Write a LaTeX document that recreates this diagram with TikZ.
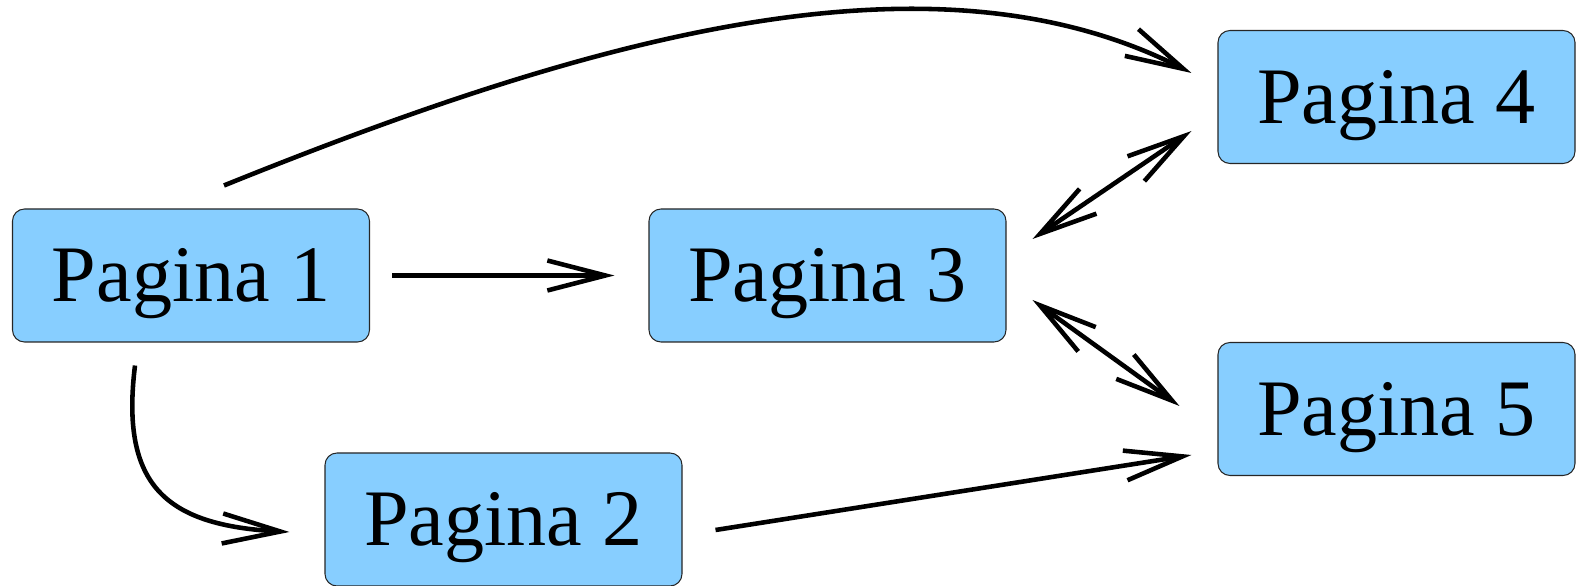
\documentclass[tikz,border=0pt]{standalone}
\usepackage{color}
\usepackage{amsmath}
\usepackage{fontspec}
\setmainfont{Liberation Serif}
\usepackage{tikz}
\usetikzlibrary{arrows.meta}

\definecolor{ltblue}{RGB}{135,206,255}

\begin{document}
\begin{tikzpicture}[>={Straight Barb[length=5.8mm,width=3mm]},
	pagina/.style={draw=black!85,line width=0.3pt,fill=ltblue,rounded corners=1.2mm,
		minimum width=3.57cm,minimum height=1.33cm,inner sep=0pt,
		font=\fontsize{22.8}{26}\selectfont,text height=15pt,text depth=0pt},
	link/.style={line width=1.3pt}]
	
	\useasboundingbox (0,0) rectangle (15.84,5.86);
	
	\node[pagina] (p1) at (1.91,3.105) {Pagina 1};
	\node[pagina] (p2) at (5.035,0.665) {Pagina 2};
	\node[pagina] (p3) at (8.275,3.105) {Pagina 3};
	\node[pagina] (p4) at (13.965,4.89) {Pagina 4};
	\node[pagina] (p5) at (13.965,1.77) {Pagina 5};
	
	\draw[link,->] ([xshift=2.2mm]p1.east) -- ([xshift=-3.4mm]p3.west);
	\draw[link,->] ([shift={(0.33,0.23)}]p1.north) .. controls +(22:4) and +(153:2.9) .. ([shift={(-0.26,0.24)}]p4.west);
	\draw[link,->] ([shift={(-0.56,-0.23)}]p1.south) .. controls +(263:1.2) and +(177:1.25) .. ([shift={(-0.35,-0.125)}]p2.west);
	%\draw[link,->] (p2) -- (p3);
	\draw[link,->] ([shift={(0.33,-0.105)}]p2.east) -- ([shift={(-0.26,-0.46)}]p5.west);
	\draw[link,<->] ([shift={(0.26,0.365)}]p3.east) -- ([shift={(-0.26,-0.34)}]p4.west);
	\draw[link,<->] ([shift={(0.26,-0.245)}]p3.east) -- ([shift={(-0.38,0.03)}]p5.west);
	
\end{tikzpicture}
\end{document}
